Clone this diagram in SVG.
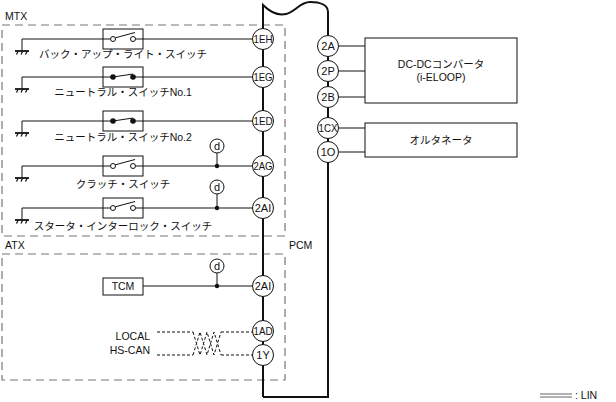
<svg xmlns="http://www.w3.org/2000/svg" width="616" height="402" viewBox="0 0 616 402">
<style>
.w{stroke:#111;stroke-width:1;fill:none}
.pcm{stroke:#111;stroke-width:2;fill:none}
.dash{stroke:#777;stroke-width:1.2;fill:none;stroke-dasharray:8,5}
.can{stroke:#111;stroke-width:1;fill:none;stroke-dasharray:3,2}
.box{stroke:#111;stroke-width:1;fill:#fff}
.pin{stroke:#111;stroke-width:1;fill:#fff}
.t{font-family:"Liberation Sans","Noto Sans CJK JP",sans-serif;font-size:10.5px;fill:#111}
.jp{font-family:"Liberation Sans","Noto Sans CJK JP",sans-serif;font-size:10.5px;fill:#111;text-anchor:middle}
.pt{font-family:"Liberation Sans",sans-serif;font-size:11px;fill:#111;text-anchor:middle}
.gnd{stroke:#111;stroke-width:1.8;fill:none}
.gh{stroke:#111;stroke-width:1.2;fill:none}
</style>
<defs>
<g id="ground">
<line class="gnd" x1="15" y1="0" x2="29" y2="0"/>
<line class="gh" x1="18" y1="0.5" x2="16.5" y2="3.5"/>
<line class="gh" x1="22.5" y1="0.5" x2="21" y2="3.5"/>
<line class="gh" x1="27" y1="0.5" x2="25.5" y2="3.5"/>
</g>
<g id="swOpen">
<rect class="box" x="103" y="-10" width="40" height="20"/>
<line class="w" x1="103" y1="0" x2="110.5" y2="0"/>
<line class="w" x1="135.5" y1="0" x2="143" y2="0"/>
<circle class="pin" cx="113" cy="0" r="2.5"/>
<circle class="pin" cx="133" cy="0" r="2.5"/>
<line class="w" x1="115.3" y1="-1.2" x2="135" y2="-6.5"/>
</g>
<g id="swClosed">
<rect class="box" x="103" y="-10" width="40" height="20"/>
<line class="w" x1="103" y1="0" x2="113" y2="0"/>
<line class="w" x1="133" y1="0" x2="143" y2="0"/>
<line class="w" x1="113" y1="0" x2="133" y2="-3"/>
<circle cx="113" cy="0" r="2.8" fill="#111"/>
<circle cx="133" cy="0" r="2.8" fill="#111"/>
</g>
</defs>

<g id="frames">
<rect class="dash" x="2" y="25" width="283" height="211"/>
<text class="t" x="5" y="20">MTX</text>
<rect class="dash" x="2" y="254" width="283" height="126"/>
<text class="t" x="5" y="249">ATX</text>
</g>

<g id="connectors">
<path class="pcm" d="M263,397 V5 C270,12 277,16 286,14 C295,12 300,2 310,2 C320,2 328,5 328,12 V397 H263"/>
<polyline class="w" points="22,51 22,39 103,39"/>
<line class="w" x1="143" y1="39" x2="252.5" y2="39"/>
<polyline class="w" points="22,89 22,77 103,77"/>
<line class="w" x1="143" y1="77" x2="252.5" y2="77"/>
<polyline class="w" points="22,133 22,121 103,121"/>
<line class="w" x1="143" y1="121" x2="252.5" y2="121"/>
<polyline class="w" points="22,178 22,166 103,166"/>
<line class="w" x1="143" y1="166" x2="252.5" y2="166"/>
<line class="w" x1="217" y1="166" x2="217" y2="153"/>
<polyline class="w" points="22,220 22,208 103,208"/>
<line class="w" x1="143" y1="208" x2="252.5" y2="208"/>
<line class="w" x1="217" y1="208" x2="217" y2="194"/>
<line class="w" x1="143" y1="286" x2="252.5" y2="286"/>
<line class="w" x1="217" y1="286" x2="217" y2="273"/>
<line class="can" x1="157" y1="332" x2="193" y2="332"/>
<line class="can" x1="221" y1="332" x2="252.5" y2="332"/>
<line class="can" x1="157" y1="355" x2="193" y2="355"/>
<line class="can" x1="221" y1="355" x2="252.5" y2="355"/>
<polyline class="can" points="193,332 200,355 207,332 214,355 221,332"/>
<polyline class="can" points="193,355 200,332 207,355 214,332 221,355"/>
<line class="w" x1="338.5" y1="46" x2="365" y2="46"/>
<line class="w" x1="338.5" y1="71" x2="365" y2="71"/>
<line class="w" x1="338.5" y1="97" x2="365" y2="97"/>
<line class="w" x1="338.5" y1="128" x2="365" y2="128"/>
<line class="w" x1="338.5" y1="152" x2="365" y2="152"/>
<circle cx="217" cy="166" r="2.2" fill="#111"/>
<circle cx="217" cy="208" r="2.2" fill="#111"/>
<circle cx="217" cy="286" r="2.2" fill="#111"/>
</g>

<g id="grounds">
<use href="#ground" y="51"/>
<use href="#ground" y="89"/>
<use href="#ground" y="133"/>
<use href="#ground" y="178"/>
<use href="#ground" y="220"/>
</g>

<g id="sw-backup">
<use href="#swOpen" y="39"/>
<text class="jp" x="123" y="58">バック・アップ・ライト・スイッチ</text>
</g>
<g id="sw-neutral1">
<use href="#swClosed" y="77"/>
<text class="jp" x="123" y="96">ニュートラル・スイッチNo.1</text>
</g>
<g id="sw-neutral2">
<use href="#swClosed" y="121"/>
<text class="jp" x="123" y="141">ニュートラル・スイッチNo.2</text>
</g>
<g id="sw-clutch">
<use href="#swOpen" y="166"/>
<text class="jp" x="123" y="188">クラッチ・スイッチ</text>
</g>
<g id="sw-starter">
<use href="#swOpen" y="208"/>
<text class="jp" x="123" y="230">スタータ・インターロック・スイッチ</text>
</g>

<g id="tcm">
<rect class="box" x="103" y="278" width="40" height="17"/>
<text class="t" x="123" y="290" text-anchor="middle">TCM</text>
</g>

<g id="can-label">
<text class="t" x="150" y="340" text-anchor="end">LOCAL</text>
<text class="t" x="150" y="354" text-anchor="end">HS-CAN</text>
</g>

<g id="d-marks">
<circle class="pin" cx="217" cy="146" r="7"/>
<text class="pt" x="217" y="150">d</text>
<circle class="pin" cx="217" cy="187" r="7"/>
<text class="pt" x="217" y="191">d</text>
<circle class="pin" cx="217" cy="266" r="7"/>
<text class="pt" x="217" y="270">d</text>
</g>

<g id="pcm">
<text class="t" x="289" y="249">PCM</text>
<circle class="pin" cx="263" cy="39" r="10.5"/><text class="pt" x="263" y="43" textLength="19" lengthAdjust="spacingAndGlyphs">1EH</text>
<circle class="pin" cx="263" cy="77" r="10.5"/><text class="pt" x="263" y="81" textLength="19" lengthAdjust="spacingAndGlyphs">1EG</text>
<circle class="pin" cx="263" cy="121" r="10.5"/><text class="pt" x="263" y="125" textLength="19" lengthAdjust="spacingAndGlyphs">1ED</text>
<circle class="pin" cx="263" cy="166" r="10.5"/><text class="pt" x="263" y="170" textLength="19" lengthAdjust="spacingAndGlyphs">2AG</text>
<circle class="pin" cx="263" cy="208" r="10.5"/><text class="pt" x="263" y="212">2AI</text>
<circle class="pin" cx="263" cy="286" r="10.5"/><text class="pt" x="263" y="290">2AI</text>
<circle class="pin" cx="263" cy="331" r="10.5"/><text class="pt" x="263" y="335" textLength="19" lengthAdjust="spacingAndGlyphs">1AD</text>
<circle class="pin" cx="263" cy="355" r="10.5"/><text class="pt" x="263" y="359">1Y</text>
<circle class="pin" cx="328" cy="46" r="10.5"/><text class="pt" x="328" y="50">2A</text>
<circle class="pin" cx="328" cy="71" r="10.5"/><text class="pt" x="328" y="75">2P</text>
<circle class="pin" cx="328" cy="97" r="10.5"/><text class="pt" x="328" y="101">2B</text>
<circle class="pin" cx="328" cy="128" r="10.5"/><text class="pt" x="328" y="132" textLength="19" lengthAdjust="spacingAndGlyphs">1CX</text>
<circle class="pin" cx="328" cy="152" r="10.5"/><text class="pt" x="328" y="156">1O</text>
</g>

<g id="dcdc">
<rect class="box" x="365" y="38" width="152" height="65"/>
<text class="jp" x="441" y="68">DC-DCコンバータ</text>
<text class="jp" x="441" y="81">(i-ELOOP)</text>
</g>

<g id="alternator">
<rect class="box" x="365" y="123" width="152" height="34"/>
<text class="jp" x="441" y="144">オルタネータ</text>
</g>

<g id="legend">
<line stroke="#555" stroke-width="0.9" x1="540" y1="394" x2="572" y2="394"/>
<line stroke="#555" stroke-width="0.9" x1="540" y1="397" x2="572" y2="397"/>
<text class="t" x="575" y="399">: LIN</text>
</g>
</svg>
